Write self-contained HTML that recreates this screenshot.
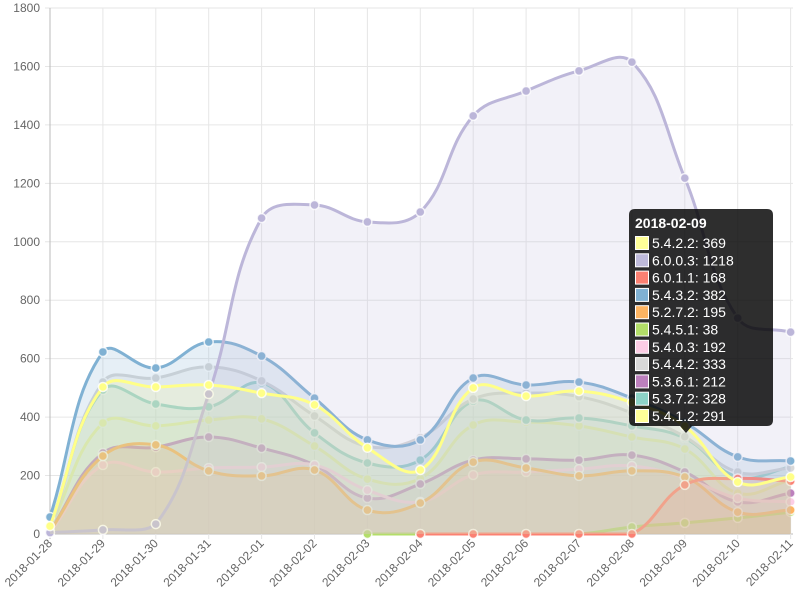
<!DOCTYPE html>
<html><head><meta charset="utf-8"><style>
body{margin:0;background:#fff;}
svg{display:block;font-family:"Liberation Sans",sans-serif;}
</style></head><body>
<svg id="c" width="800" height="600" xmlns="http://www.w3.org/2000/svg"></svg>
<script>
const svg=document.getElementById('c');
const X0=50,DX=52.9,Y0=534,SC=0.2922;
const xs=i=>X0+DX*i, ys=v=>Y0-v*SC;
let h='';
for(let k=0;k<=9;k++){const y=ys(k*200);h+=`<line x1="45" x2="793" y1="${y}" y2="${y}" stroke="${k==0?'#bbb':'#e6e6e6'}" stroke-width="1"/>`;
h+=`<text x="40" y="${y+4}" font-size="12" fill="#666" text-anchor="end">${k*200}</text>`;}
const dates=['2018-01-28','2018-01-29','2018-01-30','2018-01-31','2018-02-01','2018-02-02','2018-02-03','2018-02-04','2018-02-05','2018-02-06','2018-02-07','2018-02-08','2018-02-09','2018-02-10','2018-02-11'];
for(let i=0;i<15;i++){const x=xs(i);h+=`<line x1="${x}" x2="${x}" y1="${ys(1800)}" y2="${Y0+5}" stroke="${i==0?'#bbb':'#e6e6e6'}"/>`;
h+=`<text transform="translate(${x+3},${Y0+10}) rotate(-45)" font-size="12" fill="#666" text-anchor="end">${dates[i]}</text>`;}
const N=null;
const ds=[
['5.4.2.2','#ffff88','#ffff99',[27,503,503,510,482,442,295,219,500,472,489,450,369,178,195]],
['6.0.0.3','#bcb6d9','#bebada',[5,14,34,479,1081,1126,1068,1102,1431,1516,1585,1615,1218,739,691]],
['6.0.1.1','#fb8072','#fb8072',[N,N,N,N,N,N,N,0,0,0,0,0,168,190,181]],
['5.4.3.2','#80b1d3','#80b1d3',[58,623,568,657,609,465,322,322,534,510,520,465,382,264,250]],
['5.2.7.2','#fdb462','#fdb462',[10,267,305,216,199,219,82,106,246,226,199,216,195,75,82]],
['5.4.5.1','#b3de69','#b3de69',[N,N,N,N,N,N,0,0,0,0,0,24,38,55,75]],
['5.4.0.3','#fccde5','#fccde5',[5,236,212,226,229,236,150,110,202,212,222,233,192,123,110]],
['5.4.4.2','#d9d9d9','#d9d9d9',[10,520,534,572,524,404,300,330,462,482,470,414,333,212,226]],
['5.3.6.1','#bc80bd','#bc80bd',[10,277,297,332,294,236,123,171,253,257,253,270,212,110,140]],
['5.3.7.2','#8dd3c7','#8dd3c7',[27,493,445,435,517,346,243,253,455,390,397,370,328,195,230]],
['5.4.1.2','#ffff99','#ffff99',[20,380,370,390,394,301,188,190,373,383,370,332,291,140,185]]
];
function path(pts){
 const t=0.4;const cps=pts.map((p,i)=>{const a=pts[i-1]||p,b=pts[i+1]||p;
  const d01=Math.hypot(p[0]-a[0],p[1]-a[1]),d12=Math.hypot(b[0]-p[0],b[1]-p[1]);
  let s01=d01/(d01+d12)||0,s12=d12/(d01+d12)||0;const fa=t*s01,fb=t*s12;
  const cl=y=>Math.max(ys(1800),Math.min(Y0,y));
  return [[p[0]-fa*(b[0]-a[0]),cl(p[1]-fa*(b[1]-a[1]))],[p[0]+fb*(b[0]-a[0]),cl(p[1]+fb*(b[1]-a[1]))]];});
 let d=`M${pts[0][0]},${pts[0][1]}`;
 for(let i=1;i<pts.length;i++){d+=` C${cps[i-1][1][0]},${cps[i-1][1][1]} ${cps[i][0][0]},${cps[i][0][1]} ${pts[i][0]},${pts[i][1]}`;}
 return d;}
for(let k=ds.length-1;k>=0;k--){const [n,lc,fc,v]=ds[k];const pts=[];v.forEach((a,i)=>{if(a!==null)pts.push([xs(i),ys(a)]);});
 const d=path(pts);
 h+=`<path d="${d} L${pts[pts.length-1][0]},${Y0} L${pts[0][0]},${Y0}Z" fill="${fc}" fill-opacity="0.2" stroke="none"/>`;
 h+=`<path d="${d}" fill="none" stroke="${lc}" stroke-width="3"/>`;
 pts.forEach(p=>{h+=`<circle cx="${p[0]}" cy="${p[1]}" r="4.5" fill="${lc}" stroke="#fff" stroke-opacity="0.8" stroke-width="1.5"/>`;});
}
h+=`<path d="M635,209 H767 Q773,209 773,215 V420 Q773,426 767,426 H692 L686,433 L680,426 H635 Q629,426 629,420 V215 Q629,209 635,209Z" fill="rgba(0,0,0,0.82)"/>`;
h+=`<text x="635" y="228" font-size="14" font-weight="bold" fill="#fff">2018-02-09</text>`;
const tv=[369,1218,168,382,195,38,192,333,212,328,291];
const sw=['#ffff99','#bebada','#fb8072','#80b1d3','#fdb462','#b3de69','#fccde5','#d9d9d9','#bc80bd','#8dd3c7','#ffff99'];
ds.forEach((d,i)=>{const y=236+i*17.3;
 h+=`<rect x="635.5" y="${y+0.5}" width="13" height="13" fill="${sw[i]}" stroke="#fff" stroke-width="1"/>`;
 h+=`<text x="652" y="${y+12}" font-size="14" fill="#fff">${d[0]}: ${tv[i]}</text>`;});
svg.innerHTML=h;
</script>
</body></html>
